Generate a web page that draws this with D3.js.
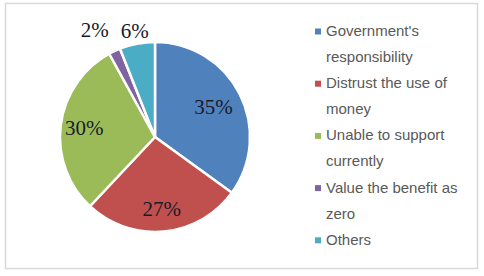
<!DOCTYPE html>
<html>
<head>
<meta charset="utf-8">
<script src="https://d3js.org/d3.v7.min.js"></script>
<style>
body { margin: 0; background: #fff; }
</style>
</head>
<body>
<div id="chart"></div>
<script>
// data
const categories = ["Government's responsibility", "Distrust the use of money", "Unable to support currently", "Value the benefit as zero", "Others"];
const values = [35, 27, 30, 2, 6];
const labels = ["35%", "27%", "30%", "2%", "6%"];
const legendLines = [["Government's", "responsibility"], ["Distrust the use of", "money"], ["Unable to support", "currently"], ["Value the benefit as", "zero"], ["Others"]];
const colors = ["#4f81bd", "#c0504d", "#9bbb59", "#8064a2", "#4bacc6"];

var width = 484, height = 276;
var cx = 155, cy = 137, radius = 95;
// how far out each label sits (fraction of radius), and a small x nudge
var labelR = [0.69, 0.76, 0.75, 1.24, 1.14];
var labelDx = [0, 0, 0, -10, 0];

var svg = d3.select("#chart")
    .append("svg")
    .attr("width", width)
    .attr("height", height);

// frame
svg.append("rect")
    .attr("x", 5.5)
    .attr("y", 3.5)
    .attr("width", 472)
    .attr("height", 265)
    .style("fill", "white")
    .style("stroke", "#d9d9d9")
    .style("stroke-width", 1.5);

const color = d3.scaleOrdinal()
    .domain(categories)
    .range(colors);

const pie = d3.pie()
    .sort(null)
    .value(function(d, i){ return values[i]; });

const arcs = pie(categories);

const arc = d3.arc()
    .innerRadius(0)
    .outerRadius(radius);

var g = svg.append("g")
    .attr("transform", "translate(" + cx + "," + cy + ")");

g.selectAll("path.slice")
    .data(arcs)
    .enter().append("path")
    .attr("class", "slice")
    .attr("d", arc)
    .style("fill", function(d){ return color(d.data); })
    .style("stroke", "white")
    .style("stroke-width", 2.5)
    .style("stroke-linejoin", "round");

g.selectAll("text.lbl")
    .data(arcs)
    .enter().append("text")
    .attr("class", "lbl")
    .attr("transform", function(d, i){
        var r = radius * labelR[i];
        var p = d3.arc().innerRadius(r).outerRadius(r).centroid(d);
        return "translate(" + (p[0] + labelDx[i]) + "," + p[1] + ")";
    })
    .attr("text-anchor", "middle")
    .attr("dy", "0.33em")
    .attr("font-family", "Liberation Serif, Times New Roman, serif")
    .attr("font-size", "21px")
    .style("fill", "#1a1a2a")
    .text(function(d, i){ return labels[i]; });

// legend
const lineH = 26.1;
var legend = svg.append("g")
    .attr("transform", "translate(315,36)");

var row = 0;
categories.forEach(function(c, i){
    var item = legend.append("g")
        .attr("transform", "translate(0," + (row * lineH) + ")");
    item.append("rect")
        .attr("x", 0)
        .attr("y", -7.5)
        .attr("width", 6)
        .attr("height", 6)
        .style("fill", color(c));
    item.selectAll("text")
        .data(legendLines[i])
        .enter().append("text")
        .attr("x", 11)
        .attr("y", function(d, j){ return j * lineH; })
        .attr("font-family", "Liberation Sans, Arial, sans-serif")
        .attr("font-size", "15px")
        .style("fill", "#595959")
        .text(function(d){ return d; });
    row += legendLines[i].length;
});
</script>
</body>
</html>
